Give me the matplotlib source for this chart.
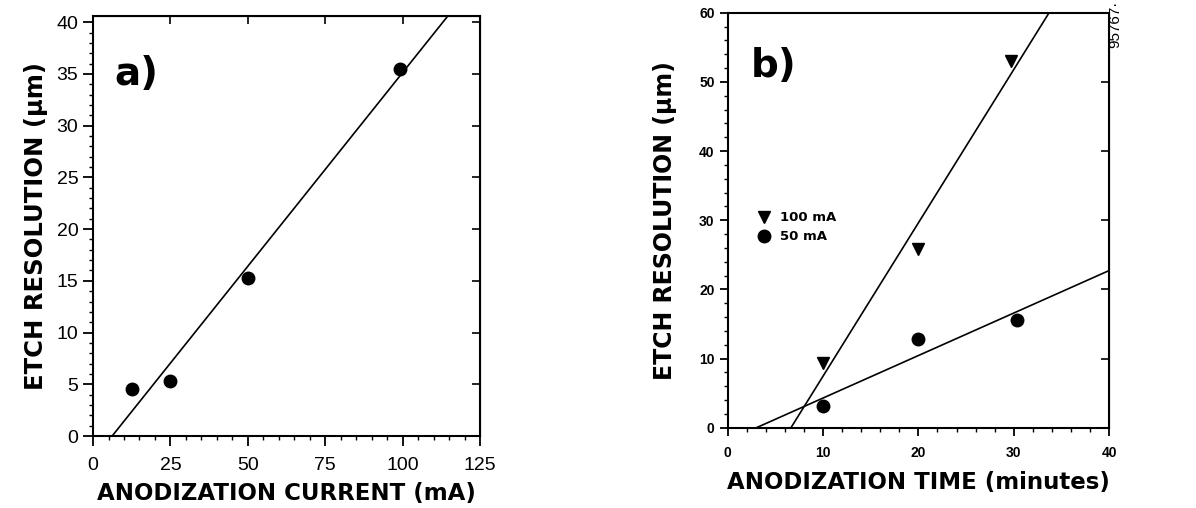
import numpy as np
import matplotlib
matplotlib.use("Agg")
import matplotlib.pyplot as plt
from matplotlib.ticker import MultipleLocator

# ---- data ----
current_mA = [12.5, 25, 50, 99]
res_current = [4.5, 5.3, 15.3, 35.5]

time_100 = [10, 20, 29.7]
res_100 = [9.3, 25.9, 53.0]
time_50 = [10, 20, 30.3]
res_50 = [3.1, 12.8, 15.6]

legend_labels = ["100 mA", "50 mA"]

plt.rcParams['font.family'] = ['Liberation Sans', 'DejaVu Sans']
HEAVY = dict(family=['DejaVu Sans'], fontweight='bold')

fig = plt.figure(figsize=(11.96, 5.08), dpi=100)

def fit_line(x, y, xmin, xmax, ymax):
    m, b = np.polyfit(x, y, 1)
    x0 = max(xmin, -b / m)
    x1 = min(xmax, (ymax - b) / m)
    xs = np.array([x0, x1])
    return xs, m * xs + b

# ---------------- panel a ----------------
axa = fig.add_axes([0.0778, 0.1417, 0.3236, 0.8268])
axa.set_xlim(0, 125)
axa.set_ylim(0, 40.6)
axa.plot(current_mA, res_current, 'o', color='black', ms=9)
xs, ys = fit_line(current_mA, res_current, 0, 125, 40.6)
axa.plot(xs, ys, color='black', lw=1.2)
axa.xaxis.set_major_locator(MultipleLocator(25))
axa.xaxis.set_minor_locator(MultipleLocator(5))
axa.yaxis.set_major_locator(MultipleLocator(5))
axa.yaxis.set_minor_locator(MultipleLocator(1))
axa.tick_params(which='major', direction='out', length=7, width=1.3, labelsize=14)
axa.tick_params(which='minor', direction='out', length=3, width=1.0)
axa.tick_params(axis='x', pad=8)
for s in axa.spines.values():
    s.set_linewidth(1.5)
sx = axa.secondary_xaxis('top')
sx.xaxis.set_major_locator(MultipleLocator(25))
sx.tick_params(direction='in', length=6, width=1.2, labeltop=False)
sy = axa.secondary_yaxis('right')
sy.yaxis.set_major_locator(MultipleLocator(5))
sy.tick_params(direction='in', length=6, width=1.2, labelright=False)
axa.set_xlabel("ANODIZATION CURRENT (mA)", fontsize=16.5, labelpad=6, **HEAVY)
axa.set_ylabel("ETCH RESOLUTION (\u00b5m)", fontsize=17.5, labelpad=6, **HEAVY)
axa.text(0.055, 0.835, "a)", transform=axa.transAxes, fontsize=28, **HEAVY)

# ---------------- panel b ----------------
axb = fig.add_axes([0.6085, 0.158, 0.3188, 0.817])
axb.set_xlim(0, 40)
axb.set_ylim(0, 60)
axb.plot(time_100, res_100, 'v', color='black', ms=8, label=legend_labels[0])
axb.plot(time_50, res_50, 'o', color='black', ms=9, label=legend_labels[1])
xs, ys = fit_line(time_100, res_100, 0, 40, 60)
axb.plot(xs, ys, color='black', lw=1.2)
xs, ys = fit_line(time_50, res_50, 0, 40, 60)
axb.plot(xs, ys, color='black', lw=1.2)
axb.xaxis.set_major_locator(MultipleLocator(10))
axb.xaxis.set_minor_locator(MultipleLocator(2))
axb.yaxis.set_major_locator(MultipleLocator(10))
axb.yaxis.set_minor_locator(MultipleLocator(2))
axb.tick_params(which='major', direction='out', length=6, width=1.3, labelsize=10)
axb.tick_params(which='minor', direction='out', length=3, width=1.0)
axb.tick_params(axis='x', pad=7)
for lab in axb.get_xticklabels() + axb.get_yticklabels():
    lab.set_fontweight('bold')
for s in axb.spines.values():
    s.set_linewidth(1.5)
sy2 = axb.secondary_yaxis('right')
sy2.yaxis.set_major_locator(MultipleLocator(10))
sy2.tick_params(direction='in', length=6, width=1.2, labelright=False)
axb.set_xlabel("ANODIZATION TIME (minutes)", fontsize=16.5, labelpad=8, **HEAVY)
axb.set_ylabel("ETCH RESOLUTION (\u00b5m)", fontsize=17, labelpad=16, **HEAVY)
axb.text(0.06, 0.845, "b)", transform=axb.transAxes, fontsize=28, **HEAVY)
leg = axb.legend(loc='upper left', bbox_to_anchor=(0.05, 0.55), frameon=False,
                 handletextpad=0.8, labelspacing=0.45, handlelength=0.8,
                 prop=dict(family='DejaVu Sans', weight='bold', size=9.5))

fig.text(0.927, 0.998, "95767\u00b7", rotation=90, ha='left', va='top', fontsize=11)

fig.savefig("out.png", dpi=100)
